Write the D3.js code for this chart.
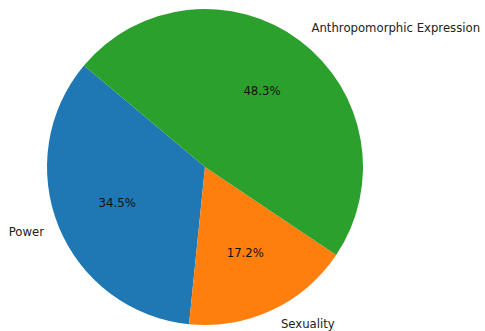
<!DOCTYPE html>
<html>
<head>
<meta charset="utf-8">
<script src="https://cdn.jsdelivr.net/npm/d3@7"></script>
<style>
  body { margin: 0; background: #fff; }
  text { font-family: "DejaVu Sans", sans-serif; }
</style>
</head>
<body>
<script>
const labels = ["Power", "Sexuality", "Anthropomorphic Expression"]
const values = [34.5, 17.2, 48.3]
const colors = ["#1f77b4", "#ff7f0e", "#2ca02c"]

const w = 485
const h = 331
const cx = 205
const cy = 167
const r = 158
const startDeg = 140   // counterclockwise from 3 o'clock, like matplotlib

const svg = d3.select("body")
  .append("svg")
  .attr("width", w)
  .attr("height", h)

const g = svg.append("g")
  .attr("transform", "translate(" + cx + "," + cy + ")")

// d3 angles go clockwise from 12 o'clock
const a0 = (90 - startDeg) * Math.PI / 180
const pie = d3.pie()
  .sort(null)
  .value(d => d)
  .startAngle(a0)
  .endAngle(a0 - 2 * Math.PI)

const arcs = pie(values)

const arc = d3.arc().innerRadius(0).outerRadius(r)
const labelArc = d3.arc().innerRadius(r * 1.1).outerRadius(r * 1.1)
const pctArc = d3.arc().innerRadius(r * 0.6).outerRadius(r * 0.6)

g.selectAll("path")
  .data(arcs)
  .enter()
  .append("path")
  .attr("d", arc)
  .style("fill", (d, i) => colors[i])

g.selectAll(".label")
  .data(arcs)
  .enter()
  .append("text")
  .attr("class", "label")
  .attr("x", d => labelArc.centroid(d)[0] + (labelArc.centroid(d)[0] > 0 ? 2 : 0))
  .attr("y", d => labelArc.centroid(d)[1])
  .attr("dominant-baseline", "central")
  .attr("text-anchor", d => labelArc.centroid(d)[0] > 0 ? "start" : "end")
  .style("font-size", "11.7px")
  .style("fill", "#222")
  .text((d, i) => labels[i])

g.selectAll(".pct")
  .data(arcs)
  .enter()
  .append("text")
  .attr("class", "pct")
  .attr("x", d => pctArc.centroid(d)[0])
  .attr("y", d => pctArc.centroid(d)[1])
  .attr("dominant-baseline", "central")
  .attr("text-anchor", "middle")
  .style("font-size", "11.7px")
  .style("fill", "#111")
  .text(d => d.data.toFixed(1) + "%")
</script>
</body>
</html>
